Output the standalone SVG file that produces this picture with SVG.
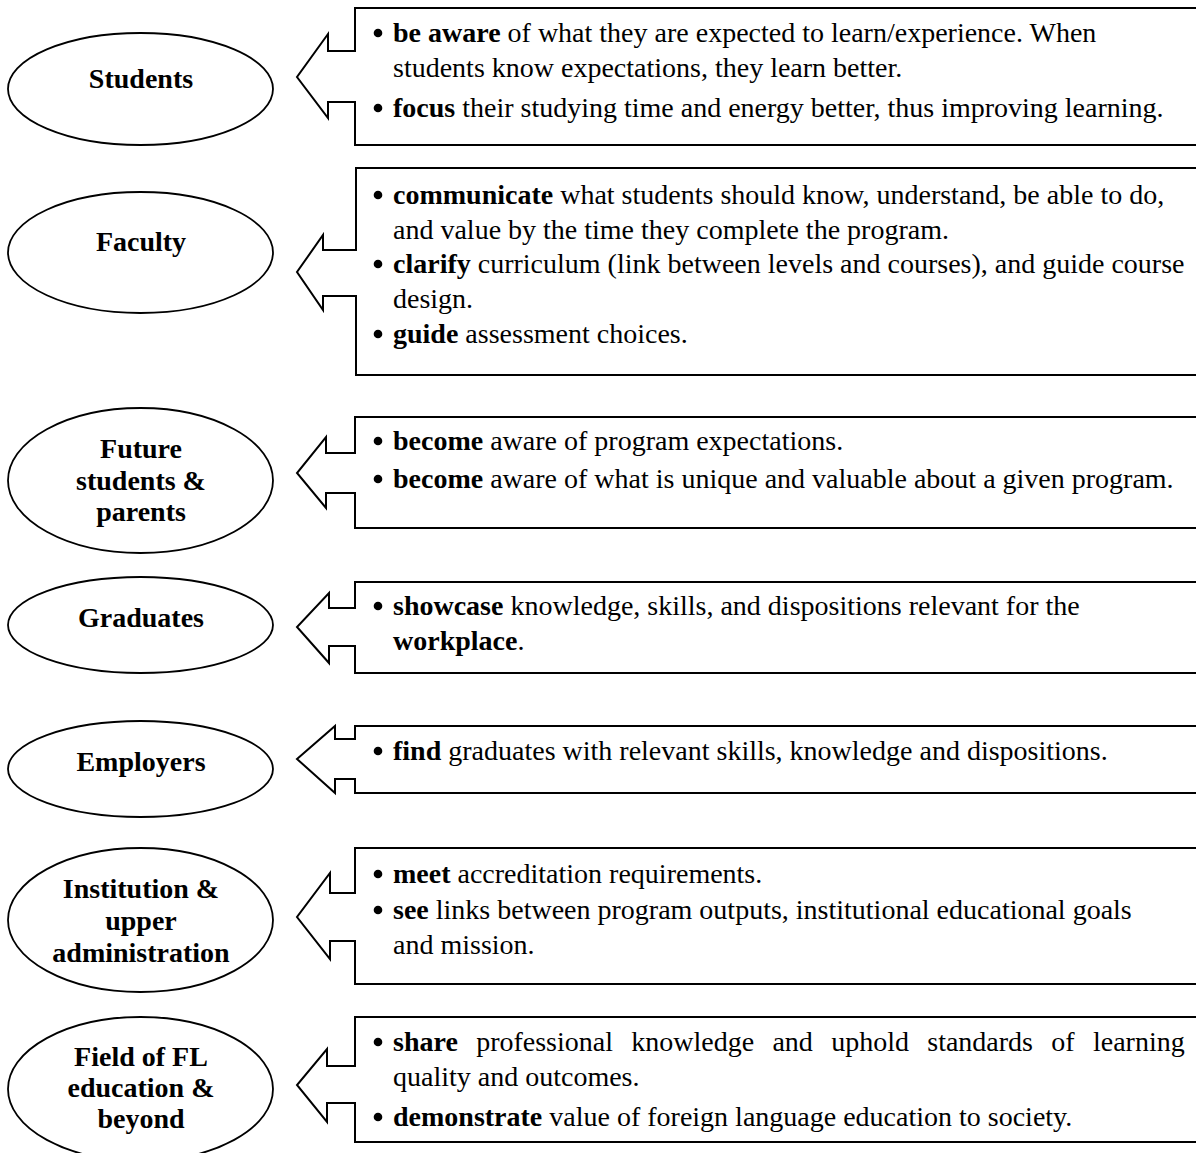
<svg xmlns="http://www.w3.org/2000/svg" width="1196" height="1153" viewBox="0 0 1196 1153">
<style>
.sh{fill:#fff;stroke:#000;stroke-width:2;stroke-linejoin:miter}
.el{fill:#fff;stroke:#000;stroke-width:1.8}
text{font-family:"Liberation Serif","Times New Roman",serif;font-size:28px;fill:#000}
.lbl{font-weight:bold;text-anchor:middle}
.b{font-weight:bold}
.dot{fill:#000;stroke:none}
</style>
<rect width="1196" height="1153" fill="#fff"/>
<g id="connectors">
<path class="sh" d="M355,8 H1210 V145 H355 V102 H328 V118 L297,77 L328,34 V51 H355 Z"/>
<path class="sh" d="M356,168 H1210 V375 H356 V296 H323 V310 L297,272 L323,235 V250 H356 Z"/>
<path class="sh" d="M355,417 H1210 V528 H355 V493 H326 V508 L297,473 L326,437 V453 H355 Z"/>
<path class="sh" d="M355,582 H1210 V673 H355 V646 H329 V663 L297,627 L329,593 V608 H355 Z"/>
<path class="sh" d="M355,726 H1210 V793 H355 V779 H335 V793 L297,759 L335,726 V739 H355 Z"/>
<path class="sh" d="M355,848 H1210 V984 H355 V941 H330 V959 L297,917 L330,873 V893 H355 Z"/>
<path class="sh" d="M355,1017 H1210 V1142 H355 V1103 H327 V1122 L297,1085 L327,1049 V1066 H355 Z"/>
</g>
<g id="node-students">
<ellipse class="el" cx="140.5" cy="89" rx="132.5" ry="56"/>
<text class="lbl" x="141" y="88">Students</text>
</g>
<g id="node-faculty">
<ellipse class="el" cx="140.5" cy="252.5" rx="132.5" ry="60.5"/>
<text class="lbl" x="141" y="251">Faculty</text>
</g>
<g id="node-future">
<ellipse class="el" cx="140.5" cy="480.5" rx="132.5" ry="72.5"/>
<text class="lbl" x="141" y="458">Future</text>
<text class="lbl" x="141" y="490">students &amp;</text>
<text class="lbl" x="141" y="521">parents</text>
</g>
<g id="node-graduates">
<ellipse class="el" cx="140.5" cy="625" rx="132.5" ry="48"/>
<text class="lbl" x="141" y="627">Graduates</text>
</g>
<g id="node-employers">
<ellipse class="el" cx="140.5" cy="769" rx="132.5" ry="48"/>
<text class="lbl" x="141" y="771">Employers</text>
</g>
<g id="node-institution">
<ellipse class="el" cx="140.5" cy="920" rx="132.5" ry="72"/>
<text class="lbl" x="141" y="898">Institution &amp;</text>
<text class="lbl" x="141" y="930">upper</text>
<text class="lbl" x="141" y="962">administration</text>
</g>
<g id="node-field">
<ellipse class="el" cx="140.5" cy="1089" rx="132.5" ry="72"/>
<text class="lbl" x="141" y="1066">Field of FL</text>
<text class="lbl" x="141" y="1097">education &amp;</text>
<text class="lbl" x="141" y="1128">beyond</text>
</g>
<g id="callout-students">
<circle class="dot" cx="378" cy="33" r="4.3"/>
<text x="393" y="42"><tspan class="b">be aware</tspan> of what they are expected to learn/experience. When</text>
<text x="393" y="77">students know expectations, they learn better.</text>
<circle class="dot" cx="378" cy="108" r="4.3"/>
<text x="393" y="117"><tspan class="b">focus</tspan> their studying time and energy better, thus improving learning.</text>
</g>
<g id="callout-faculty">
<circle class="dot" cx="378" cy="195" r="4.3"/>
<text x="393" y="204"><tspan class="b">communicate</tspan> what students should know, understand, be able to do,</text>
<text x="393" y="239">and value by the time they complete the program.</text>
<circle class="dot" cx="378" cy="264" r="4.3"/>
<text x="393" y="273"><tspan class="b">clarify</tspan> curriculum (link between levels and courses), and guide course</text>
<text x="393" y="308">design.</text>
<circle class="dot" cx="378" cy="334" r="4.3"/>
<text x="393" y="343"><tspan class="b">guide</tspan> assessment choices.</text>
</g>
<g id="callout-future">
<circle class="dot" cx="378" cy="441" r="4.3"/>
<text x="393" y="450"><tspan class="b">become</tspan> aware of program expectations.</text>
<circle class="dot" cx="378" cy="479" r="4.3"/>
<text x="393" y="488"><tspan class="b">become</tspan> aware of what is unique and valuable about a given program.</text>
</g>
<g id="callout-graduates">
<circle class="dot" cx="378" cy="606" r="4.3"/>
<text x="393" y="615"><tspan class="b">showcase</tspan> knowledge, skills, and dispositions relevant for the</text>
<text x="393" y="650"><tspan class="b">workplace</tspan>.</text>
</g>
<g id="callout-employers">
<circle class="dot" cx="378" cy="751" r="4.3"/>
<text x="393" y="760"><tspan class="b">find</tspan> graduates with relevant skills, knowledge and dispositions.</text>
</g>
<g id="callout-institution">
<circle class="dot" cx="378" cy="874" r="4.3"/>
<text x="393" y="883"><tspan class="b">meet</tspan> accreditation requirements.</text>
<circle class="dot" cx="378" cy="910" r="4.3"/>
<text x="393" y="919"><tspan class="b">see</tspan> links between program outputs, institutional educational goals</text>
<text x="393" y="954">and mission.</text>
</g>
<g id="callout-field">
<circle class="dot" cx="378" cy="1042" r="4.3"/>
<text x="393" y="1051" style="word-spacing:11.3px"><tspan class="b">share</tspan> professional knowledge and uphold standards of learning</text>
<text x="393" y="1086">quality and outcomes.</text>
<circle class="dot" cx="378" cy="1117" r="4.3"/>
<text x="393" y="1126"><tspan class="b">demonstrate</tspan> value of foreign language education to society.</text>
</g>
</svg>
